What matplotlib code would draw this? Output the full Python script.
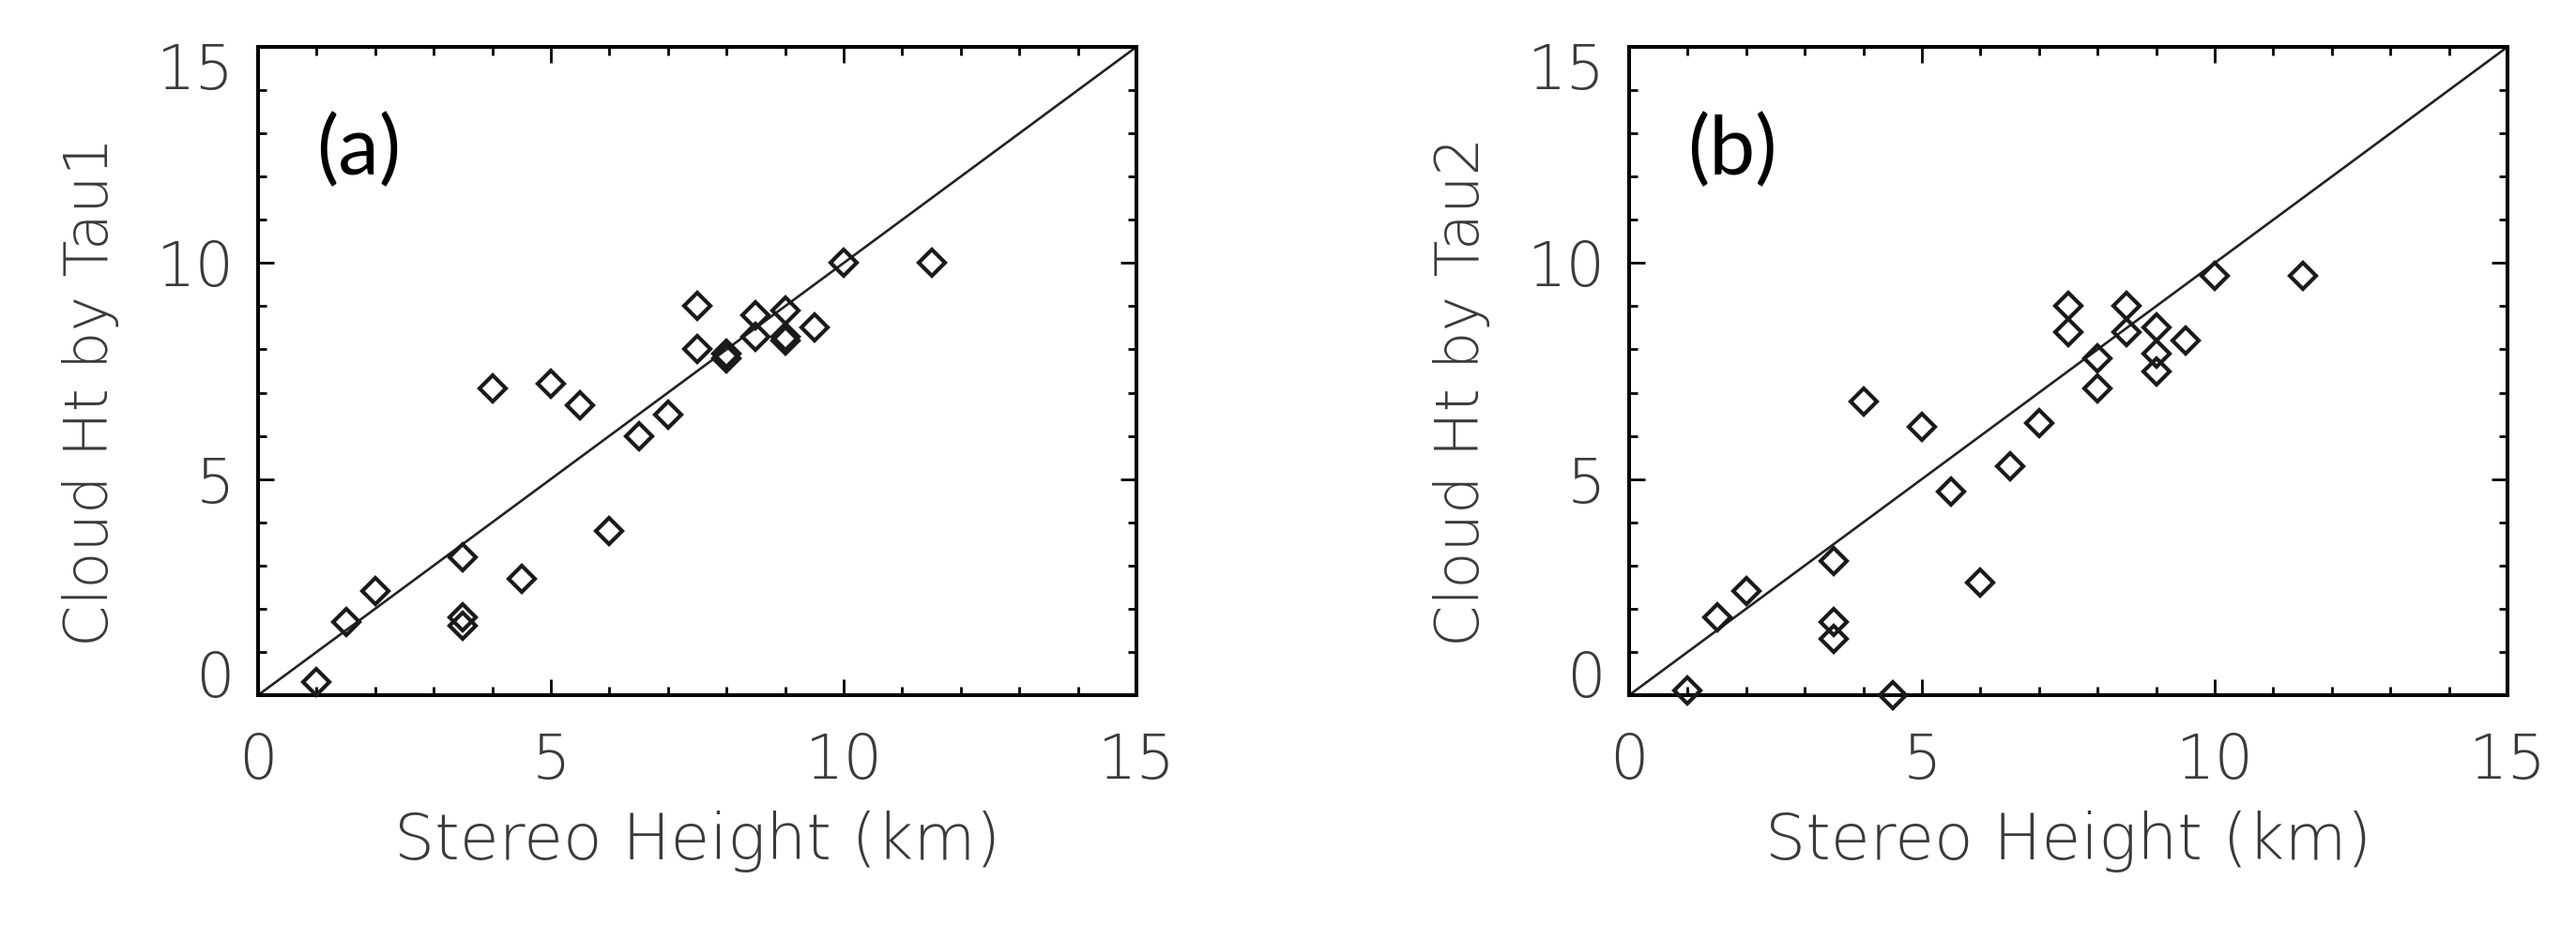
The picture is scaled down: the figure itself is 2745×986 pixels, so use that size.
import matplotlib
matplotlib.use('Agg')
import matplotlib.pyplot as plt
import matplotlib.transforms as mtransforms
import numpy as np

# stereo height (km), same for both panels
stereo_ht = [1.0, 1.5, 2.0, 3.5, 3.5, 3.5, 4.0, 4.5, 5.0, 5.5, 6.0, 6.5, 7.0,
             7.5, 7.5, 8.0, 8.0, 8.5, 8.5, 9.0, 9.0, 9.0, 9.5, 10.0, 11.5]
# cloud height retrieved with tau1 / tau2
cloud_tau1 = [0.3, 1.7, 2.4, 3.2, 1.8, 1.6, 7.1, 2.7, 7.2, 6.7, 3.8, 6.0, 6.5,
              9.0, 8.0, 7.9, 7.8, 8.8, 8.3, 8.9, 8.3, 8.2, 8.5, 10.0, 10.0]
cloud_tau2 = [0.1, 1.8, 2.4, 3.1, 1.7, 1.3, 6.8, 0.0, 6.2, 4.7, 2.6, 5.3, 6.3,
              9.0, 8.4, 7.8, 7.1, 9.0, 8.4, 8.5, 7.9, 7.5, 8.2, 9.7, 9.7]

ylabels = ['Cloud Ht by Tau1', 'Cloud Ht by Tau2']
panel_tags = ['(a)', '(b)']
ticks = [0, 5, 10, 15]
one_to_one = [0, 15]

txt_font = dict(family='DejaVu Sans', weight='light', color='#3a3a3a')

fig = plt.figure(figsize=(27.45, 9.86), dpi=100)

ax_lefts = [275 / 2745, 1736 / 2745]
for i, yvals in enumerate([cloud_tau1, cloud_tau2]):
    ax = fig.add_axes([ax_lefts[i], 245 / 986, 936 / 2745, 691 / 986])

    # 1:1 line
    ax.plot(one_to_one, one_to_one, color='#222222', lw=1.9, zorder=2)
    ax.plot(stereo_ht, yvals, ls='none', marker='D', ms=14, mfc='none',
            mec='#1a1a1a', mew=3.0, zorder=3, clip_on=False)

    ax.set_xlim(0, 15)
    ax.set_ylim(0, 15)
    ax.set_xticks(ticks)
    ax.set_yticks(ticks)
    ax.set_xticks(np.arange(0, 16, 1), minor=True)
    ax.set_yticks(np.arange(0, 16, 1), minor=True)
    ax.tick_params(which='both', direction='in', top=True, right=True, width=2,
                   color='black')
    ax.tick_params(which='major', length=12)
    ax.tick_params(which='minor', length=6.5)
    ax.tick_params(axis='x', which='major', pad=28)
    ax.tick_params(axis='y', which='major', pad=18)
    for sp in ax.spines.values():
        sp.set_linewidth(2.9)

    ax.set_xticklabels([str(t) for t in ticks], fontsize=47, **txt_font)
    ax.set_yticklabels([str(t) for t in ticks], fontsize=47, **txt_font)

    # IDL style: end labels of y axis pulled inside the axis range
    ylab = ax.get_yticklabels()
    ylab[0].set_transform(ylab[0].get_transform() +
                          mtransforms.ScaledTranslation(0, 0.23, fig.dpi_scale_trans))
    ylab[-1].set_transform(ylab[-1].get_transform() +
                           mtransforms.ScaledTranslation(0, -0.20, fig.dpi_scale_trans))

    ax.set_xlabel('Stereo Height (km)', fontsize=49, **txt_font)
    ax.set_ylabel(ylabels[i], fontsize=46, **txt_font)
    ax.xaxis.set_label_coords(0.5, -0.178)
    ax.yaxis.set_label_coords(-0.157, 0.468)

    ax.text(1.0, 12.6, panel_tags[i], fontsize=63, family='Lato',
            color='black', ha='left', va='center')

fig.savefig('out.png', dpi=100)
